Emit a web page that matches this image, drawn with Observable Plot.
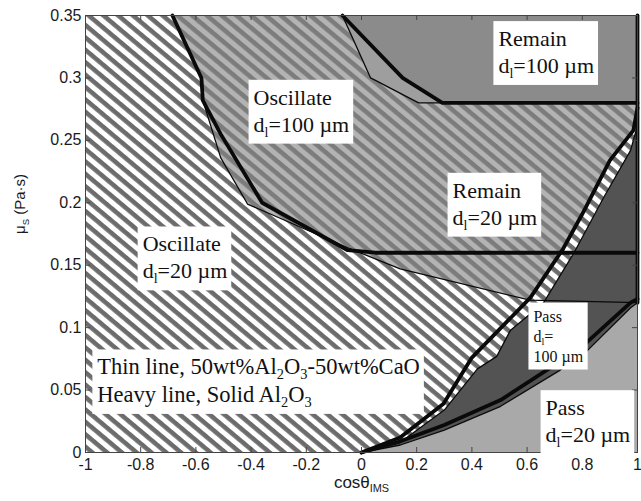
<!DOCTYPE html>
<html><head><meta charset="utf-8">
<script src="https://cdn.jsdelivr.net/npm/d3@7"></script>
<script src="https://cdn.jsdelivr.net/npm/@observablehq/plot@0.6"></script>
<style>body{margin:0;background:#fff}</style>
</head><body><div id="chart"></div>
<script>
// ---- axes ----
const xDomain = [-1, 1];
const yDomain = [0, 0.35];
const xTicks = [-1, -0.8, -0.6, -0.4, -0.2, 0, 0.2, 0.4, 0.6, 0.8, 1];
const xTickLabels = ["-1", "-0.8", "-0.6", "-0.4", "-0.2", "0", "0.2", "0.4", "0.6", "0.8", "1"];
const yTicks = [0, 0.05, 0.1, 0.15, 0.2, 0.25, 0.3, 0.35];
const yTickLabels = ["0", "0.05", "0.1", "0.15", "0.2", "0.25", "0.3", "0.35"];

// ---- regime boundaries [cosθ, μS] ----
// Oscillate / Remain boundary
const heavyOscillate = [[-0.685,0.35],[-0.58,0.30],[-0.575,0.282],[-0.51,0.255],[-0.36,0.20],[-0.05,0.162],[0.05,0.16],[1,0.16]];
const thinOscillate  = [[-0.685,0.35],[-0.58,0.30],[-0.575,0.282],[-0.51,0.236],[-0.413,0.199],[-0.05,0.164],[0.14,0.147],[0.61,0.122],[1,0.12]];
// Remain d=100 boundary
const heavyRemain = [[-0.069,0.35],[0.149,0.30],[0.293,0.28],[1,0.28]];
const thinRemain  = [[-0.069,0.35],[0.033,0.30],[0.207,0.28],[1,0.28]];
// Pass d=100 boundary
const heavyPass100 = [[0,0],[0.14,0.012],[0.297,0.039],[0.40,0.076],[0.612,0.124],[0.73,0.163],[0.80,0.191],[0.90,0.234],[0.985,0.258],[1,0.276]];
const thinPass100  = [[0,0],[0.14,0.008],[0.30,0.034],[0.42,0.067],[0.49,0.077],[0.54,0.098],[0.66,0.12],[0.77,0.16],[0.877,0.204],[0.975,0.242],[1,0.262]];
// Pass d=20 boundary
const heavyPass20 = [[0,0],[0.141,0.009],[0.30,0.022],[0.504,0.042],[0.72,0.073],[0.82,0.089],[0.975,0.12],[1,0.123]];
const thinPass20  = [[0,0],[0.141,0.006],[0.30,0.018],[0.504,0.037],[0.72,0.066],[0.82,0.082],[0.975,0.116],[1,0.12]];
const rightEdgeHeavy = [[1,0.12],[1,0.35]];

// ---- labels (one entry per text line) ----
const labelLines = [
  ["Remain", "d_{l}=100 µm"],
  ["Oscillate", "d_{l}=100 µm"],
  ["Remain", "d_{l}=20 µm"],
  ["Oscillate", "d_{l}=20 µm"],
  ["Thin line, 50wt%Al_{2}O_{3}-50wt%CaO", "Heavy line, Solid Al_{2}O_{3}"],
  ["Pass", "d_{l}=", "100 µm"],
  ["Pass", "d_{l}=20 µm"]
];
const labelX = [0.496, -0.391, 0.33, -0.793, -0.957, 0.623, 0.667];
const labelY = [0.338, 0.291, 0.2165, 0.1735, 0.0753, 0.114, 0.0424];
const labelSize = [22, 22, 22, 22, 22.5, 16, 22];
const labelGap = [27, 27, 27, 27, 27.5, 20, 27];

// ---- layout ----
const W = 641, H = 501, mL = 85, mR = 4, mT = 15, mB = 49;
const innerH = H - mT - mB;
const pxPerY = innerH / (yDomain[1] - yDomain[0]);
const HEAVY = 3.8, THIN = 1.3, INK = "#0a0a0a";
const corner = [xDomain[1], yDomain[1]];
const cornerLow = [xDomain[1], yDomain[0]];

const fx = d => d[0], fy = d => d[1];
const poly = (pts, fill) => Plot.line(pts, {x: fx, y: fy, fill, stroke: "none"});
const path = (pts, w) => Plot.line(pts, {x: fx, y: fy, stroke: INK, strokeWidth: w, strokeLinejoin: "round"});

const marks = [
  Plot.frame({fill: "url(#hW)"}),
  poly([...thinOscillate, corner], "url(#hG)"),
  poly([...thinRemain, corner], "#9e9e9e"),
  poly([...heavyRemain, corner], "#8b8b8b"),
  poly([...heavyPass100, cornerLow], "url(#hW)"),
  poly([...thinPass100, ...thinPass20.slice().reverse()], "#535353"),
  poly([...thinPass20, cornerLow], "#a9a9a9"),
  path(thinOscillate, THIN), path(thinRemain, THIN), path(thinPass100, THIN), path(thinPass20, THIN),
  path(heavyOscillate, HEAVY), path(heavyRemain, HEAVY), path(heavyPass100, HEAVY), path(heavyPass20, HEAVY),
  path(rightEdgeHeavy, HEAVY),
  Plot.frame({stroke: "#444", strokeWidth: 1}),
  Plot.tickX(xTicks, {x: d => d, insetTop: innerH - 5, stroke: "#444"}),
  Plot.tickX(xTicks, {x: d => d, insetBottom: innerH - 5, stroke: "#444"}),
  Plot.tickY(yTicks, {y: d => d, insetRight: (W - mL - mR) - 5, stroke: "#444"}),
  Plot.tickY(yTicks, {y: d => d, insetLeft: (W - mL - mR) - 5, stroke: "#444"}),
  Plot.axisX({ticks: xTicks, tickFormat: d => xTickLabels[xTicks.indexOf(d)], tickSize: 0, tickPadding: 6, fontSize: 16, color: "#1a1a1a", label: null}),
  Plot.axisY({ticks: yTicks, tickFormat: d => yTickLabels[yTicks.indexOf(d)], tickSize: 0, tickPadding: 4, fontSize: 16, color: "#1a1a1a", label: null}),
  Plot.text(["cosθ_{IMS}"], {frameAnchor: "bottom", dy: 30, text: d => d, fontSize: 17, lineAnchor: "middle", fill: "#1a1a1a"}),
  Plot.text(["μ_{S} (Pa·s)"], {frameAnchor: "left", dx: -65, rotate: -90, text: d => d, fontSize: 15, fill: "#1a1a1a"}),
  ...labelLines.map((lines, i) => Plot.text(lines, {
    x: () => labelX[i], y: (d, k) => labelY[i] - k * labelGap[i] / pxPerY, text: d => d,
    textAnchor: "start", lineAnchor: "top",
    fontSize: labelSize[i], fontFamily: "Liberation Serif", fill: "#111", className: "lbl"
  }))
];

const svg = Plot.plot({
  width: W, height: H, marginLeft: mL, marginRight: mR, marginTop: mT, marginBottom: mB,
  x: {domain: xDomain}, y: {domain: yDomain},
  style: {fontFamily: "Liberation Sans", background: "#fff"},
  marks
});
document.getElementById("chart").appendChild(svg);

// ---- hatch patterns ----
const NS = "http://www.w3.org/2000/svg";
const defs = document.createElementNS(NS, "defs");
const P = 9.5, ANG = 40;
function pattern(id, bg, fg) {
  const p = document.createElementNS(NS, "pattern");
  p.setAttribute("id", id);
  p.setAttribute("patternUnits", "userSpaceOnUse");
  p.setAttribute("width", 10); p.setAttribute("height", P);
  p.setAttribute("patternTransform", `rotate(${ANG})`);
  const r1 = document.createElementNS(NS, "rect");
  r1.setAttribute("width", 10); r1.setAttribute("height", P); r1.setAttribute("fill", bg);
  const r2 = document.createElementNS(NS, "rect");
  r2.setAttribute("width", 10); r2.setAttribute("height", P * 0.48); r2.setAttribute("fill", fg);
  p.appendChild(r1); p.appendChild(r2);
  defs.appendChild(p);
}
pattern("hW", "#ffffff", "#6c6c6c");
pattern("hG", "#b3b3b3", "#7c7c7c");
svg.insertBefore(defs, svg.firstChild);

// ---- subscripts ----
function subscriptify(el, fs) {
  const s = el.textContent;
  if (!s.includes("_{")) return;
  while (el.firstChild) el.removeChild(el.firstChild);
  const shift = fs * 0.22;
  const re = /_\{([^}]*)\}/g;
  let last = 0, m, shifted = false;
  const add = (txt, dy, size) => {
    const t = document.createElementNS(NS, "tspan");
    t.textContent = txt;
    if (dy) t.setAttribute("dy", dy);
    if (size) t.setAttribute("font-size", size);
    el.appendChild(t);
  };
  while ((m = re.exec(s))) {
    if (m.index > last) { add(s.slice(last, m.index), shifted ? -shift : 0); shifted = false; }
    add(m[1], shifted ? 0 : shift, fs * 0.64); shifted = true;
    last = re.lastIndex;
  }
  if (last < s.length) add(s.slice(last), shifted ? -shift : 0);
}
svg.querySelectorAll("text").forEach(t => {
  const fs = parseFloat(getComputedStyle(t).fontSize);
  const spans = t.querySelectorAll(":scope > tspan");
  if (spans.length) spans.forEach(sp => subscriptify(sp, fs)); else subscriptify(t, fs);
});

// ---- white boxes behind labels (one per label group) ----
svg.querySelectorAll("g.lbl").forEach(g => {
  const bb = g.getBBox();
  const r = document.createElementNS(NS, "rect");
  r.setAttribute("x", bb.x - 5); r.setAttribute("y", bb.y - 5);
  r.setAttribute("width", bb.width + 9); r.setAttribute("height", bb.height + 9);
  r.setAttribute("fill", "#fff");
  g.insertBefore(r, g.firstChild);
});
</script>
</body></html>
